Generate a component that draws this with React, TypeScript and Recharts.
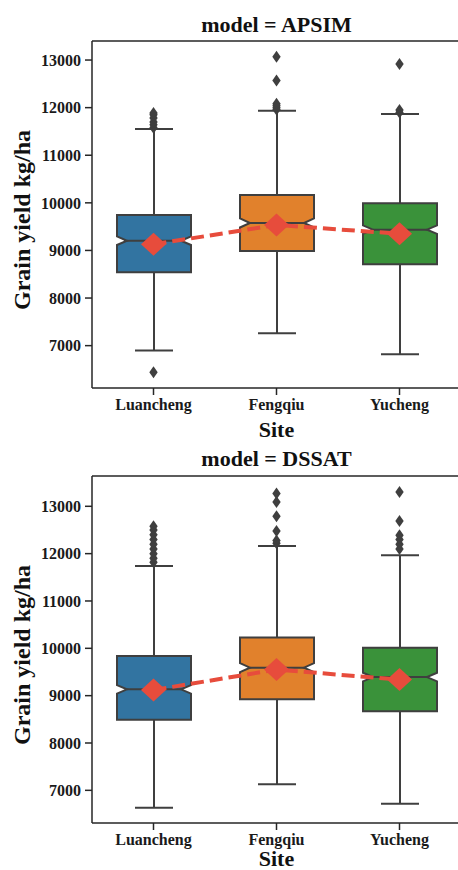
import React from 'react';
import { ComposedChart, Bar, Line, XAxis, YAxis, ReferenceLine } from 'recharts';

// ---------- data ----------
const sites = ['Luancheng', 'Fengqiu', 'Yucheng'];
const yTicks = [7000, 8000, 9000, 10000, 11000, 12000, 13000];

const apsimLow = [6896, 7261, 6820];
const apsimQ1 = [8540, 8990, 8710];
const apsimMedian = [9204, 9577, 9437];
const apsimQ3 = [9744, 10165, 9990];
const apsimHigh = [11550, 11936, 11866];
const apsimMean = [9130, 9535, 9350];
const apsimNotch = [90, 95, 90];
const apsimFliers = [
  [6442, 11580, 11640, 11700, 11780, 11850, 11890],
  [11960, 12000, 12040, 12080, 12570, 13070],
  [11900, 11950, 12916],
];

const dssatLow = [6634, 7126, 6719];
const dssatQ1 = [8492, 8922, 8669];
const dssatMedian = [9134, 9592, 9393];
const dssatQ3 = [9838, 10226, 10014];
const dssatHigh = [11740, 12161, 11965];
const dssatMean = [9120, 9550, 9340];
const dssatNotch = [90, 95, 90];
const dssatFliers = [
  [11820, 11900, 12000, 12100, 12200, 12300, 12400, 12500, 12580],
  [12220, 12280, 12480, 12790, 13090, 13270],
  [12100, 12200, 12300, 12390, 12690, 13300],
];

// ---------- styles ----------
const palette = ['#3274a1', '#e1812c', '#3a923a'];
const edge = '#3f3f3f';
const meanColor = '#e74c3c';
const axisColor = '#262626';
const fontFamily = '"Liberation Serif", "Times New Roman", serif';
const MAX_FLIERS = 9;

function buildRows(
  low: number[], q1: number[], median: number[], q3: number[], high: number[],
  mean: number[], notch: number[], fliers: number[][]
) {
  return sites.map((site, i) => {
    const row: any = { site, low: low[i], q1: q1[i], median: median[i], q3: q3[i], high: high[i], mean: mean[i], notch: notch[i] };
    for (let k = 0; k < MAX_FLIERS; k++) row['f' + k] = fliers[i][k] ?? null;
    return row;
  });
}

const apsimRows = buildRows(apsimLow, apsimQ1, apsimMedian, apsimQ3, apsimHigh, apsimMean, apsimNotch, apsimFliers);
const dssatRows = buildRows(dssatLow, dssatQ1, dssatMedian, dssatQ3, dssatHigh, dssatMean, dssatNotch, dssatFliers);

function BoxShape(props: any) {
  const { x, y, width, height, payload, index } = props;
  if (x == null || y == null) return <g />;
  const top = Math.min(y, y + height);
  const bot = Math.max(y, y + height);
  const { low, high, q1, median, q3, notch } = payload;
  const py = (v: number) => top + ((high - v) / (high - low)) * (bot - top);
  const cx = x + width / 2;
  const l = x;
  const r = x + width;
  const inset = 10;
  const yq3 = py(q3);
  const yq1 = py(q1);
  const ym = py(median);
  const yn1 = py(median + notch);
  const yn2 = py(median - notch);
  const yHi = py(high);
  const yLo = py(low);
  const cap = 19;
  const pts = [
    [l, yq3], [r, yq3], [r, yn1], [r - inset, ym], [r, yn2], [r, yq1],
    [l, yq1], [l, yn2], [l + inset, ym], [l, yn1],
  ].map((p) => p.join(',')).join(' ');
  return (
    <g>
      <line x1={cx} y1={yq3} x2={cx} y2={yHi} stroke={edge} strokeWidth={2} />
      <line x1={cx} y1={yq1} x2={cx} y2={yLo} stroke={edge} strokeWidth={2} />
      <line x1={cx - cap} y1={yHi} x2={cx + cap} y2={yHi} stroke={edge} strokeWidth={2} />
      <line x1={cx - cap} y1={yLo} x2={cx + cap} y2={yLo} stroke={edge} strokeWidth={2} />
      <polygon points={pts} fill={palette[index % palette.length]} stroke={edge} strokeWidth={2} strokeLinejoin="miter" />
      <line x1={l + inset} y1={ym} x2={r - inset} y2={ym} stroke={edge} strokeWidth={2} />
    </g>
  );
}

function FlierDot(props: any) {
  const { cx, cy, value, index, dataKey } = props;
  if (value == null || cx == null || cy == null || isNaN(cy)) return <g key={`f-${dataKey}-${index}`} />;
  return (
    <path
      key={`f-${dataKey}-${index}`}
      d={`M${cx},${cy - 6} L${cx + 4.2},${cy} L${cx},${cy + 6} L${cx - 4.2},${cy} Z`}
      fill={edge}
    />
  );
}

function MeanDot(props: any) {
  const { cx, cy, index } = props;
  if (cx == null || cy == null) return <g key={`m-${index}`} />;
  return (
    <path
      key={`m-${index}`}
      d={`M${cx},${cy - 11.5} L${cx + 12.5},${cy} L${cx},${cy + 11.5} L${cx - 12.5},${cy} Z`}
      fill={meanColor}
    />
  );
}

function Panel({ rows, domain }: { rows: any[]; domain: [number, number] }) {
  const tickStyle = { fontFamily, fontSize: 16, fontWeight: 'bold', fill: '#1a1a1a' } as any;
  return (
    <ComposedChart
      width={470}
      height={435}
      data={rows}
      margin={{ top: 41, right: 9, bottom: 17, left: 32 }}
    >
      <XAxis
        dataKey="site"
        type="category"
        height={30}
        tick={tickStyle}
        tickSize={7}
        tickMargin={4}
        axisLine={{ stroke: axisColor, strokeWidth: 1.5 }}
        tickLine={{ stroke: axisColor, strokeWidth: 1.5 }}
        interval={0}
      />
      <YAxis
        type="number"
        domain={domain}
        ticks={yTicks}
        allowDataOverflow
        width={60}
        tick={tickStyle}
        tickSize={7}
        tickMargin={4}
        axisLine={{ stroke: axisColor, strokeWidth: 1.5 }}
        tickLine={{ stroke: axisColor, strokeWidth: 1.5 }}
        interval={0}
      />
      <ReferenceLine y={domain[1]} stroke={axisColor} strokeWidth={1.5} />
      <Bar
        dataKey={(d: any) => [d.low, d.high]}
        barSize={74}
        shape={BoxShape}
        isAnimationActive={false}
        activeBar={false}
      />
      {Array.from({ length: MAX_FLIERS }, (_, k) => (
        <Line
          key={'f' + k}
          dataKey={'f' + k}
          stroke="none"
          dot={FlierDot}
          activeDot={false}
          isAnimationActive={false}
          connectNulls={false}
        />
      ))}
      <Line
        dataKey="mean"
        stroke={meanColor}
        strokeWidth={4}
        strokeDasharray="13 6"
        dot={MeanDot}
        activeDot={false}
        isAnimationActive={false}
      />
    </ComposedChart>
  );
}

export default function App() {
  const textStyle = { fontFamily, fontWeight: 'bold', fill: '#111' } as any;
  return (
    <div style={{ position: 'absolute', left: 0, top: 0, width: 458, height: 870, overflow: 'hidden', background: '#fff' }}>
      <div style={{ position: 'absolute', left: 0, top: 0 }}>
        <Panel rows={apsimRows} domain={[6110, 13400]} />
      </div>
      <div style={{ position: 'absolute', left: 0, top: 435 }}>
        <Panel rows={dssatRows} domain={[6310, 13640]} />
      </div>
      <svg width={458} height={870} style={{ position: 'absolute', left: 0, top: 0, pointerEvents: 'none' }}>
        <text x={276.5} y={32} textAnchor="middle" fontSize={22} {...textStyle}>model = APSIM</text>
        <text x={276.5} y={436.5} textAnchor="middle" fontSize={22} {...textStyle}>Site</text>
        <text transform="translate(30,220) rotate(-90)" textAnchor="middle" fontSize={24} {...textStyle}>Grain yield kg/ha</text>
        <text x={276.5} y={466} textAnchor="middle" fontSize={22} {...textStyle}>model = DSSAT</text>
        <text x={276.5} y={866} textAnchor="middle" fontSize={22} {...textStyle}>Site</text>
        <text transform="translate(30,655) rotate(-90)" textAnchor="middle" fontSize={24} {...textStyle}>Grain yield kg/ha</text>
      </svg>
    </div>
  );
}
